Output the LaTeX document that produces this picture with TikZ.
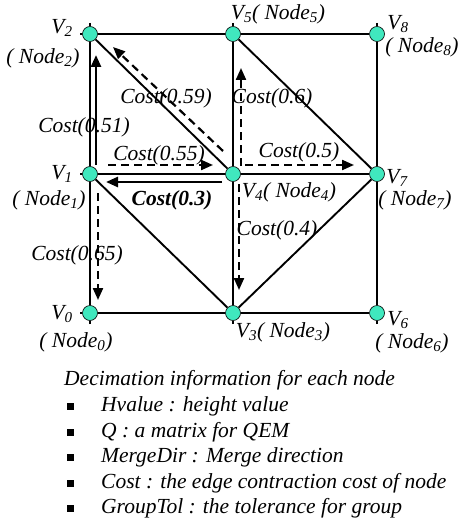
\documentclass[tikz,border=0pt]{standalone}
\usepackage{fontspec}
\setmainfont{Liberation Serif}
\usepackage{tikz}
\usetikzlibrary{positioning, arrows.meta}

\definecolor{vertfill}{RGB}{64,232,190}

\begin{document}
\begin{tikzpicture}[
        x=1pt, y=-1pt,                 % coordinate in pixel, y verso il basso
        >={Triangle[length=12pt,width=10pt]},
        every node/.style={font=\fontsize{21.5}{24}\selectfont\itshape},
        vert/.style={              % cerchi dei vertici
            circle,
            draw=black,
            line width=0.6pt,
            fill=vertfill,
            minimum size=15pt,
            inner sep=0pt
        },
        mesh/.style={line width=2.4pt},
        diag/.style={line width=1.9pt},
        solidarr/.style={->, line width=2.6pt},
        dasharr/.style={->, line width=2.2pt, dash pattern=on 8pt off 5pt},
        bullet/.style={rectangle, fill=black, minimum size=7pt, inner sep=0pt}
    ]

    \useasboundingbox (0,0) rectangle (461,524);

    % --- Vertici della griglia ---
    \node[vert] (V2) at (90,34)   {};
    \node[vert] (V5) at (233,34)  {};
    \node[vert] (V8) at (377,34)  {};
    \node[vert] (V1) at (90,174)  {};
    \node[vert] (V4) at (233,174) {};
    \node[vert] (V7) at (377,174) {};
    \node[vert] (V0) at (90,313)  {};
    \node[vert] (V3) at (233,313) {};
    \node[vert] (V6) at (377,313) {};

    % --- Lati della griglia ---
    \draw[mesh] (V2) -- (V5) -- (V8);
    \draw[mesh] (V1) -- (V4) -- (V7);
    \draw[mesh] (V0) -- (V3) -- (V6);
    \draw[mesh] (V2) -- (V1) -- (V0);
    \draw[mesh] (V5) -- (V4) -- (V3);
    \draw[mesh] (V8) -- (V7) -- (V6);

    % tacche sul bordo
    \draw[mesh] ([yshift=11pt]V2.center) -- (V2);
    \draw[mesh] ([yshift=11pt]V5.center) -- (V5);
    \draw[mesh] ([yshift=11pt]V8.center) -- (V8);
    \draw[mesh] ([xshift=-10pt]V2.center) -- (V2);
    \draw[mesh] ([xshift=-10pt]V1.center) -- (V1);
    \draw[mesh] ([xshift=-10pt]V0.center) -- (V0);
    \draw[mesh] ([yshift=-11pt]V0.center) -- (V0);
    \draw[mesh] ([yshift=-11pt]V3.center) -- (V3);
    \draw[mesh] ([yshift=-11pt]V6.center) -- (V6);

    % --- Diagonali ---
    \draw[diag] (V2) -- (V4);
    \draw[diag] (V5) -- (V7);
    \draw[diag] (V1) -- (V3);
    \draw[diag] (V3) -- (V7);

    % --- Etichette dei vertici ---
    \node (lV2) at (62,28)  {V\textsubscript{2}};
    \node (lN2) at (43,58)  {( Node\textsubscript{2})};
    \node (lV5) at (278,14) {V\textsubscript{5}( Node\textsubscript{5})};
    \node (lV8) at (398,24) {V\textsubscript{8}};
    \node (lN8) at (422,47) {( Node\textsubscript{8})};
    \node (lV1) at (62,174) {V\textsubscript{1}};
    \node (lN1) at (49,200) {( Node\textsubscript{1})};
    \node (lV4) at (289,192) {V\textsubscript{4}( Node\textsubscript{4})};
    \node (lV7) at (397,178) {V\textsubscript{7}};
    \node (lN7) at (415,200) {( Node\textsubscript{7})};
    \node (lV0) at (62,314) {V\textsubscript{0}};
    \node (lN0) at (76,342) {( Node\textsubscript{0})};
    \node (lV3) at (283,332) {V\textsubscript{3}( Node\textsubscript{3})};
    \node (lV6) at (398,320) {V\textsubscript{6}};
    \node (lN6) at (412,343) {( Node\textsubscript{6})};

    % --- Frecce dei costi ---

    % 1. V1 -> V2
    \draw[solidarr] ([shift={(6,-9)}]V1.center) -- ([shift={(6,21)}]V2.center);
    \node (c051) at (84,127) {Cost(0.51)};

    % 2. V4 -> V2 (lungo la diagonale)
    \draw[dasharr] ([shift={(-10,-23)}]V4.center) -- ([shift={(23,13)}]V2.center);
    \node (c059) at (166,98) {Cost(0.59)};

    % 3. V1 -> V4
    \draw[dasharr] ([shift={(18,-9)}]V1.center) -- ([shift={(-20,-9)}]V4.center);
    \node (c055) at (159,155) {Cost(0.55)};

    % 4. V4 -> V1
    \draw[solidarr] ([shift={(-11,8)}]V4.center) -- ([shift={(16,8)}]V1.center);
    \node (c03) at (172,200) {\bfseries Cost(0.3)};

    % 5. V1 -> V0
    \draw[dasharr] ([shift={(8,19)}]V1.center) -- ([shift={(8,-13)}]V0.center);
    \node (c065) at (77,255) {Cost(0.65)};

    % 6. V4 -> V5
    \draw[dasharr] ([shift={(8,-8)}]V4.center) -- ([shift={(8,34)}]V5.center);
    \node (c06) at (272,98) {Cost(0.6)};

    % 7. V4 -> V7
    \draw[dasharr] ([shift={(12,-9)}]V4.center) -- ([shift={(-23,-9)}]V7.center);
    \node (c05) at (299,152) {Cost(0.5)};

    % 8. V4 -> V3
    \draw[dasharr] ([shift={(6,10)}]V4.center) -- ([shift={(6,-23)}]V3.center);
    \node (c04) at (277,230) {Cost(0.4)};

    % --- Informazioni di decimazione ---
    \node[anchor=west, inner sep=0pt] (info) at (64,380) {Decimation information for each node};
    \foreach \txt [count=\i] in {Hvalue : height value,
                                 Q : a matrix for QEM,
                                 MergeDir : Merge direction,
                                 Cost : the edge contraction cost of node,
                                 GroupTol : the tolerance for group} {
        \node[bullet] (b\i) at (70,{381+25.5*\i}) {};
        \node[anchor=west, inner sep=0pt] (t\i) at (101,{381+25.5*\i}) {\txt};
    }

\end{tikzpicture}
\end{document}
